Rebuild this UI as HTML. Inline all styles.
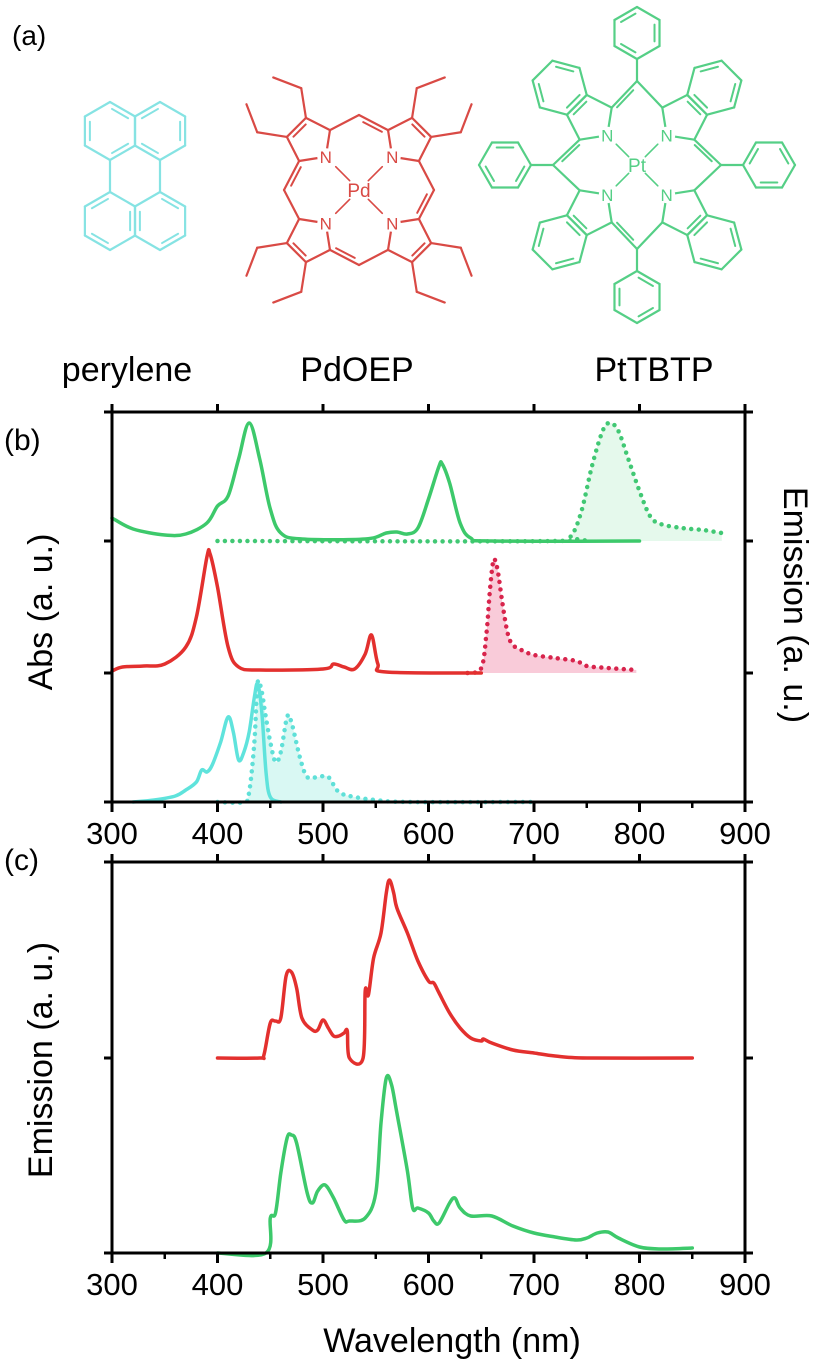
<!DOCTYPE html>
<html><head><meta charset="utf-8"><style>
html,body{margin:0;padding:0;background:#fff;}
svg{display:block;font-family:"Liberation Sans",Arial,sans-serif;}
</style></head><body>
<svg id="fig" width="820" height="1369" viewBox="0 0 820 1369" xmlns="http://www.w3.org/2000/svg">
<g id="mol"></g>
<text x="12" y="45" font-size="28">(a)</text>
<text x="127" y="381" font-size="34" text-anchor="middle">perylene</text>
<text x="357" y="381" font-size="34" text-anchor="middle">PdOEP</text>
<text x="654" y="381" font-size="34" text-anchor="middle">PtTBTP</text>
<text x="4" y="450" font-size="30">(b)</text>
<text x="4" y="870" font-size="30">(c)</text>
<text transform="translate(52,612) rotate(-90)" font-size="34" text-anchor="middle">Abs (a. u.)</text>
<text transform="translate(784,605) rotate(90)" font-size="34" text-anchor="middle">Emission (a. u.)</text>
<text transform="translate(52,1060) rotate(-90)" font-size="34" text-anchor="middle">Emission (a. u.)</text>
<text x="452" y="1352" font-size="34" text-anchor="middle">Wavelength (nm)</text>
<g id="plots"></g>
</svg>
<script>
// ---------- chart data ----------
const xTicks = [300,400,500,600,700,800,900];
const xMinor = [350,450,550,650,750,850];
// panel b (values in a.u.)
const ptAbsNm  = [300,320,350,370,390,400,410,420,430,440,450,460,480,540,560,570,580,590,600,610,613,620,630,640,660,800];
const ptAbsVal = [23,12,6,7,18,35,45,82,118,82,32,8,2,2,8,9,7,13,42,75,77,58,18,3,0,0];
const ptEmNm   = [400,720,735,745,755,765,772,780,790,800,810,820,840,860,878];
const ptEmVal  = [0,0,5,30,75,110,118,110,80,50,25,17,13,11,8];
const pdAbsNm  = [300,310,330,350,370,380,390,393,400,410,420,440,500,510,520,530,540,546,552,560,650];
const pdAbsVal = [2,6,7,9,26,56,116,119,86,26,6,3,4,9,6,4,19,38,9,1,0];
const pdEmNm   = [637,650,655,658,661,663,666,670,675,680,690,700,720,740,750,770,797];
const pdEmVal  = [0,5,40,80,110,113,100,70,40,28,22,18,15,12,7,5,3];
const peAbsNm  = [320,340,360,370,380,385,390,395,403,410,415,420,425,430,435,438,442,446,450,460];
const peAbsVal = [0,2,6,12,20,32,30,37,60,85,70,42,50,70,105,118,90,30,5,0];
const peEmNm   = [400,425,430,435,438,442,445,450,455,460,466,470,478,485,495,505,515,530,550,580,700];
const peEmVal  = [0,0,10,60,119,110,90,60,40,50,85,80,45,25,25,25,10,5,2,0,0];
// panel c
const cRedNm  = [400,440,444,450,455,460,465,470,475,480,490,495,500,505,510,515,520,523,525,538,540,543,548,555,560,563,567,570,580,590,600,605,610,620,630,640,650,652,660,680,700,720,750,850];
const cRedVal = [0,0,3,35,37,40,82,86,70,40,28,28,38,30,22,22,25,27,0,0,67,63,100,125,165,178,165,150,125,97,77,75,65,45,30,20,17,19,15,8,5,2,0,0];
const cGrnNm  = [400,446,450,455,460,466,470,475,485,490,495,502,510,520,525,540,550,555,560,565,570,580,585,590,600,605,610,620,625,630,640,660,680,700,720,740,750,760,770,780,800,820,850];
const cGrnVal = [0,0,35,40,80,115,118,110,60,50,62,68,55,33,32,35,60,130,175,168,140,82,45,45,40,32,30,50,55,45,37,37,27,20,16,13,15,20,21,15,6,4,5];

const NS='http://www.w3.org/2000/svg';
const L=112,R=745;
function X(nm){return L+(nm-300)*(R-L)/600;}
function mk(tag,attrs,parent){const e=document.createElementNS(NS,tag);for(const k in attrs)e.setAttribute(k,attrs[k]);parent.appendChild(e);return e;}
function smooth(p){let d='M'+p[0][0].toFixed(1)+','+p[0][1].toFixed(1);for(let i=0;i<p.length-1;i++){const p0=p[i-1]||p[i],p1=p[i],p2=p[i+1],p3=p[i+2]||p2;const c1=[p1[0]+(p2[0]-p0[0])/6,p1[1]+(p2[1]-p0[1])/6],c2=[p2[0]-(p3[0]-p1[0])/6,p2[1]-(p3[1]-p1[1])/6];d+=`C${c1[0].toFixed(1)},${c1[1].toFixed(1)} ${c2[0].toFixed(1)},${c2[1].toFixed(1)} ${p2[0].toFixed(1)},${p2[1].toFixed(1)}`;}return d;}
const plots=document.getElementById('plots');
function pts(nm,val,base){return nm.map((n,i)=>[X(n),base-val[i]]);}
function series(nm,val,base,color,name,dotted,fill){
  const p=pts(nm,val,base);
  if(fill){const f=mk('path',{d:smooth(p)+`L${X(nm[nm.length-1])},${base}L${X(nm[0])},${base}Z`,fill:fill,stroke:'none'},plots);
    
    }
  const e=mk('path',{d:smooth(p),fill:'none',stroke:color,'stroke-width':dotted?4.5:3.5,'stroke-linejoin':'round','stroke-linecap':'round'},plots);
  if(dotted)e.setAttribute('stroke-dasharray','0 7.5');
  
  
}
function frame(top,bot,mids,labels,name){
  const r=mk('rect',{x:L,y:top,width:R-L,height:bot-top,fill:'none',stroke:'#000','stroke-width':3},plots);
  
  
  xTicks.forEach(t=>{
    const a=mk('line',{x1:X(t),x2:X(t),y1:bot,y2:bot+10,stroke:'#000','stroke-width':3},plots);
    
    
    const b=mk('line',{x1:X(t),x2:X(t),y1:top,y2:top-8,stroke:'#000','stroke-width':3},plots);
    
    
    if(labels){const tx=mk('text',{x:X(t),y:bot+42,'font-size':31,'text-anchor':'middle'},plots);tx.textContent=t;
      
      }
  });
  xMinor.forEach(t=>{
    const a=mk('line',{x1:X(t),x2:X(t),y1:bot,y2:bot+6,stroke:'#000','stroke-width':2.5},plots);
    
    
  });
  mids.concat([top,bot]).forEach(y=>{
    const a=mk('line',{x1:L-8,x2:L,y1:y,y2:y,stroke:'#000','stroke-width':3},plots);
    
    
    const b=mk('line',{x1:R,x2:R+8,y1:y,y2:y,stroke:'#000','stroke-width':3},plots);
    
    
  });
}
const G='#3dc96b',RD='#e3302e',CY='#5fe3dc',CR='#d8244c';
// panel b
series(ptEmNm,ptEmVal,541,'#41c874','pttbtp-emission','dot','#e5f9ec');
series(pdEmNm,pdEmVal,673,CR,'pdoep-emission','dot','#f9cbd9');
series(peEmNm,peEmVal,802,'#5fe0d8','perylene-emission','dot','#d9f8f3');
series(ptAbsNm,ptAbsVal,541,G,'pttbtp-absorption');
series(pdAbsNm,pdAbsVal,673,RD,'pdoep-absorption');
series(peAbsNm,peAbsVal,802,CY,'perylene-absorption');
frame(412,802,[541,673],true,'panel-b');
// panel c
series(cRedNm,cRedVal,1058,RD,'pdoep-perylene-upconversion');
series(cGrnNm,cGrnVal,1253,G,'pttbtp-perylene-upconversion');
frame(862,1253,[1058],true,'panel-c');

// ---------- molecules ----------
const mol=document.getElementById('mol');
function ln(a,b,c,w,name){const e=mk('line',{x1:a[0],y1:a[1],x2:b[0],y2:b[1],stroke:c,'stroke-width':w||2.2,'stroke-linecap':'round'},mol);
  
  return e;}
function inner(a,b,c,cen,off){const m=[(a[0]+b[0])/2,(a[1]+b[1])/2];let dx=cen[0]-m[0],dy=cen[1]-m[1];const dl=Math.hypot(dx,dy);dx/=dl;dy/=dl;
  const s=0.18;const a2=[a[0]+(b[0]-a[0])*s+dx*off,a[1]+(b[1]-a[1])*s+dy*off],b2=[b[0]+(a[0]-b[0])*s+dx*off,b[1]+(a[1]-b[1])*s+dy*off];ln(a2,b2,c,2,'double-bond');}
function hexV(cx,cy,s,a0){const v=[];for(let k=0;k<6;k++){const t=(a0+60*k)*Math.PI/180;v.push([cx+s*Math.cos(t),cy+s*Math.sin(t)]);}return v;}
function ring(v,c,dbl,start){for(let k=0;k<v.length;k++)ln(v[k],v[(k+1)%v.length],c);
  if(dbl){const cen=[v.reduce((s,p)=>s+p[0],0)/v.length,v.reduce((s,p)=>s+p[1],0)/v.length];for(let k=start||0;k<v.length;k+=2)inner(v[k],v[(k+1)%v.length],c,cen,5);}}
function label(x,y,t,c,fs){const b=mk('circle',{cx:x,cy:y,r:fs*0.5,fill:'#fff'},mol);
  
  
  const e=mk('text',{x:x,y:y+fs*0.36,'font-size':fs,'text-anchor':'middle',fill:c},mol);e.textContent=t;
  
  }
// perylene
const PC='#86e3e3';
[[110,131,0],[160,131,1],[110,221,1],[160,221,0]].forEach(h=>ring(hexV(h[0],h[1],29,-90),PC,true,h[2]));
ln([110,160],[110,192],PC);ln([160,160],[160,192],PC);
function porph(cx,cy,d,a,m,c,o){
  const Rr=a/(2*Math.sin(Math.PI/5));const Ns=[],alphas=[];
  [225,315,45,135].forEach(phi=>{
    const u=[Math.cos(phi*Math.PI/180),Math.sin(phi*Math.PI/180)];
    const pc=[cx+(d+Rr)*u[0],cy+(d+Rr)*u[1]];const inw=phi+180;const v=[];
    for(let k=0;k<5;k++){const t=(inw+72*k)*Math.PI/180;v.push([pc[0]+Rr*Math.cos(t),pc[1]+Rr*Math.sin(t)]);}
    for(let k=0;k<5;k++)ln(v[k],v[(k+1)%5],c);
    inner(v[2],v[3],c,pc,4.5);
    Ns.push(v[0]);alphas.push(v[1],v[4]);
    [v[2],v[3]].forEach(b=>{
      let dir=[b[0]-pc[0],b[1]-pc[1]];const dl=Math.hypot(dir[0],dir[1]);dir=[dir[0]/dl,dir[1]/dl];
      if(o.ethyl){const p1=[b[0]+30*dir[0],b[1]+30*dir[1]];ln(b,p1,c);
        const cr=u[0]*dir[1]-u[1]*dir[0];const th=Math.atan2(dir[1],dir[0])-Math.sign(cr)*Math.PI/3;
        ln(p1,[p1[0]+30*Math.cos(th),p1[1]+30*Math.sin(th)],c);}
    });
    if(o.benzo){const b1=v[2],b2=v[3];const mid=[(b1[0]+b2[0])/2,(b1[1]+b2[1])/2];let w=[mid[0]-pc[0],mid[1]-pc[1]];const wl=Math.hypot(w[0],w[1]);w=[w[0]/wl,w[1]/wl];
      const hc=[mid[0]+w[0]*a*Math.sqrt(3)/2,mid[1]+w[1]*a*Math.sqrt(3)/2];const a0=Math.atan2(b1[1]-hc[1],b1[0]-hc[0])*180/Math.PI;
      ring(hexV(hc[0],hc[1],a,a0),c,true,1);}
  });
  [270,0,90,180].forEach(ang=>{
    const w=[Math.cos(ang*Math.PI/180),Math.sin(ang*Math.PI/180)];const M=[cx+m*w[0],cy+m*w[1]];
    const near=alphas.slice().sort((p,q)=>Math.hypot(p[0]-M[0],p[1]-M[1])-Math.hypot(q[0]-M[0],q[1]-M[1])).slice(0,2);
    near.forEach(p=>ln(p,M,c));inner(near[0],M,c,[cx,cy],4.5);
    if(o.phenyl){const p=[M[0]+22*w[0],M[1]+22*w[1]];ln(M,p,c);const s=26;const hc=[p[0]+s*w[0],p[1]+s*w[1]];ring(hexV(hc[0],hc[1],s,ang+180),c,true,0);}
  });
  Ns.forEach(n=>{ln([n[0]+(cx-n[0])*0.3,n[1]+(cy-n[1])*0.3],[n[0]+(cx-n[0])*0.72,n[1]+(cy-n[1])*0.72],c,1.6,'coordination-bond');label(n[0],n[1],'N',c,17);});
  label(cx,cy,o.metal,c,19);
}
porph(359,190,47,27,75,'#d94a45',{ethyl:true,metal:'Pd'});
porph(637,165,42,28,84,'#55cf86',{benzo:true,phenyl:true,metal:'Pt'});
</script>
</body></html>
